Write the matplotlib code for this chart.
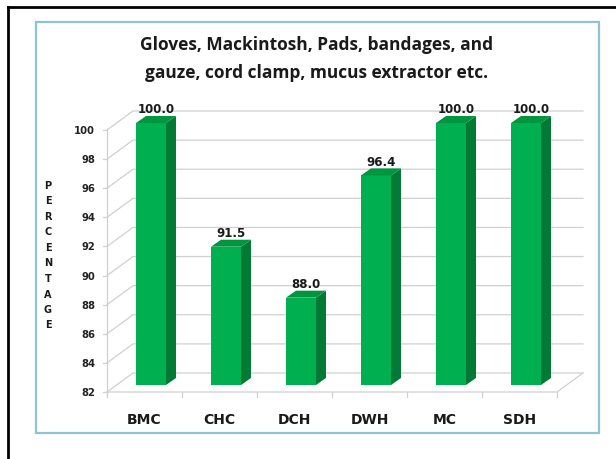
import matplotlib.pyplot as plt
from matplotlib.patches import Polygon, Rectangle
from matplotlib.lines import Line2D

categories = ['BMC', 'CHC', 'DCH', 'DWH', 'MC', 'SDH']
values = [100.0, 91.5, 88.0, 96.4, 100.0, 100.0]
yticks = [82, 84, 86, 88, 90, 92, 94, 96, 98, 100]
title = 'Gloves, Mackintosh, Pads, bandages, and\ngauze, cord clamp, mucus extractor etc.'

W, H = 616, 460
fig = plt.figure(figsize=(W / 100, H / 100), dpi=100)

# outer frame lines (black top + left) and light blue box
fig.add_artist(Line2D([8 / W, 1], [1 - 8 / H, 1 - 8 / H], color='black', lw=2))
fig.add_artist(Line2D([8 / W, 8 / W], [0, 1 - 8 / H], color='black', lw=2))
fig.add_artist(Rectangle((36 / W, 1 - 434 / H), (599 - 36) / W, (434 - 23) / H,
                         fill=False, ec='#8cc4d2', lw=1.6))

# front plane of the plot: x 107..557 px, y 131..393 px
ax = fig.add_axes([107 / W, 1 - 393 / H, 450 / W, 262 / H])
ax.set_xlim(-0.5, len(categories) - 0.5)
ax.set_ylim(82, 100)
ax.axis('off')

pxx = 75.0
pxy = 262 / 18
# depth offsets (data units)
bdx, bdy = 26 / pxx, 19 / pxy     # back wall
fdx, fdy = 8 / pxx, 7 / pxy       # bar front face
sdx, sdy = 10 / pxx, 7 / pxy      # bar depth
bw = 30 / pxx

grid_c = '#d0d0d0'
x0, x1 = -0.5, len(categories) - 0.5
for v in yticks:
    ax.plot([x0, x0 + bdx, x1 + bdx], [v, v + bdy, v + bdy], color=grid_c, lw=0.9,
            clip_on=False, zorder=1)
    ax.plot([x0 - 0.05, x0], [v, v], color=grid_c, lw=0.9, clip_on=False)
    ax.text(x0 - 0.16, v, str(v), ha='right', va='center', fontsize=7.2,
            fontweight='bold', color='#222222', clip_on=False)
# left axis line and floor
ax.plot([x0, x0], [82, 100], color=grid_c, lw=0.9, clip_on=False)
ax.plot([x0, x1, x1 + bdx], [82, 82, 82 + bdy], color=grid_c, lw=0.9, clip_on=False)
for i in range(len(categories) + 1):
    ax.plot([x0 + i, x0 + i], [82, 82 - 5 / pxy], color=grid_c, lw=0.9, clip_on=False)

front_c = '#00b050'
side_c = '#007a35'
top_c = '#00953f'
for i, (cat, val) in enumerate(zip(categories, values)):
    left = i - bw / 2 + fdx - 0.02
    base = 82 + fdy
    top = val + fdy
    ax.bar(left + bw / 2, top - base, width=bw, bottom=base, color=front_c,
           zorder=3, clip_on=False)
    ax.add_patch(Polygon([(left + bw, base), (left + bw + sdx, base + sdy),
                          (left + bw + sdx, top + sdy), (left + bw, top)],
                         closed=True, fc=side_c, ec='none', zorder=3, clip_on=False))
    ax.add_patch(Polygon([(left, top), (left + bw, top), (left + bw + sdx, top + sdy),
                          (left + sdx, top + sdy)],
                         closed=True, fc=top_c, ec='none', zorder=3, clip_on=False))
    ax.text(left + (bw + sdx) / 2, top + sdy + 0.05, f'{val:.1f}', ha='center', va='bottom',
            fontsize=8.5, fontweight='bold', color='#1a1a1a', clip_on=False, zorder=4)
    ax.text(i, 82 - 27 / pxy, cat, ha='center', va='center', fontsize=10,
            fontweight='bold', color='#1a1a1a', clip_on=False)

# stacked vertical y label
label = 'PERCENTAGE'
for k, ch in enumerate(label):
    fig.text(48 / W, 1 - (186 + k * 15.5) / H, ch, ha='center', va='center',
             fontsize=7, fontweight='bold', color='#1a1a1a')

fig.text(317 / W, 1 - 59 / H, title, ha='center', va='center', fontsize=12.5,
         fontweight='bold', family='Open Sans', color='#1a1a1a', linespacing=1.65)

fig.savefig('out.png', dpi=100)
